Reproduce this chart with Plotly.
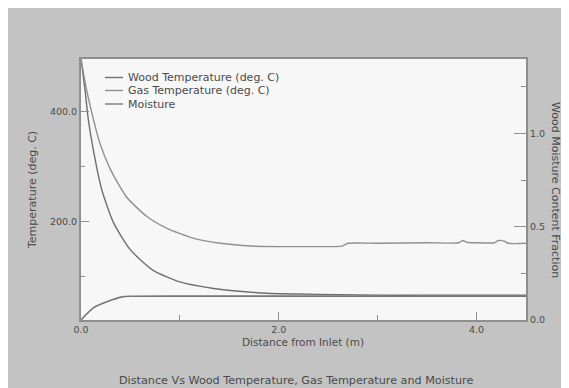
import plotly.graph_objects as go

# ---- data ----
series_names = ["Wood Temperature (deg. C)", "Gas Temperature (deg. C)", "Moisture"]

gas_x = [0.0, 0.05, 0.11, 0.19, 0.30, 0.46, 0.67, 0.87, 1.14, 1.41, 1.72, 2.0, 2.3,
         2.64, 2.70, 3.0, 3.5, 3.82, 3.86, 3.90, 4.0, 4.18, 4.22, 4.28, 4.32, 4.5]
gas_t = [495, 445, 397, 343, 294, 245, 209, 188, 170, 161, 156, 155, 155,
         156, 161, 161, 162, 162, 166, 163, 162, 162, 166, 165, 161, 161]

wood_x = [0.0, 0.04, 0.074, 0.125, 0.21, 0.33, 0.50, 0.73, 1.0, 1.34, 1.6, 1.82,
          2.2, 2.6, 3.0, 3.5, 4.0, 4.5]
wood_t = [495, 440, 385, 330, 258, 198, 149, 112, 91, 79, 74, 71,
          69, 68, 67, 67, 67, 67]

moist_x = [0.0, 0.125, 0.315, 0.414, 0.5, 1.0, 2.0, 3.0, 4.0, 4.5]
moist_m = [0.0, 0.065, 0.108, 0.124, 0.127, 0.128, 0.128, 0.128, 0.128, 0.128]

x_ticks = [0, 2, 4]
x_ticklabels = ["0.0", "2.0", "4.0"]
y_ticks = [200, 400]
y2_ticks = [0.0, 0.5, 1.0]

x_title = "Distance from Inlet (m)"
y_title = "Temperature (deg. C)"
y2_title = "Wood Moisture Content Fraction"
chart_title = "Distance Vs Wood Temperature, Gas Temperature and Moisture"

# ---- styling ----
OFF = 8  # page body margin in the browser
W, H = 561, 380
L, R, T, B = 73, 43, 51, 68
PW, PH = W - L - R, H - T - B
FONT = "DejaVu Sans"
TXT = "#4a4a4a"
AX = "#8e8e8e"
line_colors = ["#6f6f6f", "#909090", "#777777"]


def px(xp):
    # page pixel -> paper fraction
    return (xp - OFF - L) / PW


def py(yp):
    return (H - B - (yp - OFF)) / PH


fig = go.Figure()
fig.add_trace(go.Scatter(x=wood_x, y=wood_t, mode="lines", name=series_names[0],
                         line=dict(color=line_colors[0], width=1.4, shape="spline", smoothing=0.6)))
fig.add_trace(go.Scatter(x=gas_x, y=gas_t, mode="lines", name=series_names[1],
                         line=dict(color=line_colors[1], width=1.4, shape="spline", smoothing=0.6)))
fig.add_trace(go.Scatter(x=moist_x, y=moist_m, mode="lines", name=series_names[2], yaxis="y2",
                         line=dict(color=line_colors[2], width=1.6, shape="spline", smoothing=0.6)))

tickfont = dict(family=FONT, size=9.5, color=TXT)

fig.update_layout(
    width=W, height=H,
    margin=dict(l=L, r=R, t=T, b=B, pad=0),
    paper_bgcolor="#c3c3c3",
    plot_bgcolor="#f7f7f7",
    showlegend=False,
    font=dict(family=FONT, size=10, color=TXT),
    xaxis=dict(range=[0, 4.5], tickvals=x_ticks, ticktext=x_ticklabels,
               ticks="inside", ticklen=8, tickcolor=AX, tickwidth=1,
               minor=dict(ticks="inside", ticklen=5, tickcolor=AX, dtick=1, tick0=0, showgrid=False),
               showline=True, mirror=True, linecolor=AX, linewidth=2,
               showgrid=False, zeroline=False, tickfont=tickfont),
    yaxis=dict(range=[22, 495], tickvals=y_ticks, tickformat=".1f",
               ticks="inside", ticklen=8, tickcolor=AX, tickwidth=1,
               minor=dict(ticks="inside", ticklen=4, tickcolor=AX, dtick=100, tick0=0, showgrid=False),
               showline=True, linecolor=AX, linewidth=2,
               showgrid=False, zeroline=False, tickfont=tickfont),
    yaxis2=dict(range=[0, 1.4], overlaying="y", side="right", tickvals=y2_ticks, tickformat=".1f",
                ticks="inside", ticklen=12, tickcolor=AX, tickwidth=1,
                minor=dict(ticks="inside", ticklen=5, tickcolor=AX, dtick=0.25, tick0=0, showgrid=False),
                showline=True, linecolor=AX, linewidth=2,
                showgrid=False, zeroline=False, tickfont=tickfont),
)

shapes = []
annotations = [
    dict(text=x_title, xref="paper", yref="paper", x=px(303), y=py(342),
         showarrow=False, xanchor="center", yanchor="middle", font=dict(size=10.5)),
    dict(text=y_title, xref="paper", yref="paper", x=px(32), y=py(190), textangle=-90,
         showarrow=False, xanchor="center", yanchor="middle", font=dict(size=11)),
    dict(text=y2_title, xref="paper", yref="paper", x=px(556), y=py(190), textangle=90,
         showarrow=False, xanchor="center", yanchor="middle", font=dict(size=11)),
    dict(text=chart_title, xref="paper", yref="paper", x=px(296), y=py(380),
         showarrow=False, xanchor="center", yanchor="middle", font=dict(size=11.2)),
]

# custom legend (compact rows like the reference)
legend_rows = [77.5, 90.5, 104]
for name, color, ry in zip(series_names, line_colors, legend_rows):
    shapes.append(dict(type="line", xref="paper", yref="paper", x0=px(105), x1=px(123),
                       y0=py(ry), y1=py(ry), line=dict(color=color, width=1.4)))
    annotations.append(dict(text=name, xref="paper", yref="paper", x=px(126), y=py(ry),
                            showarrow=False, xanchor="left", yanchor="middle",
                            font=dict(size=11, color=TXT)))

fig.update_layout(shapes=shapes, annotations=annotations)
fig.write_html("out.html")
